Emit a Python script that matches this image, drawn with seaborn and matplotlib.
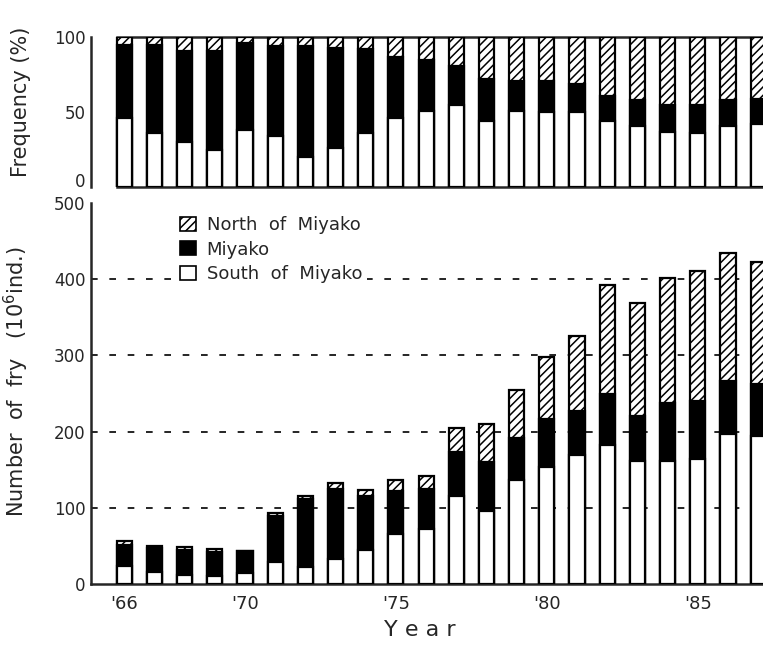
import matplotlib
matplotlib.use("Agg")
import matplotlib.pyplot as plt
from matplotlib.patches import Patch
import seaborn as sns
import pandas as pd
import numpy as np

# ---------------- data ----------------
years = [1966, 1967, 1968, 1969, 1970, 1971, 1972, 1973, 1974, 1975, 1976,
         1977, 1978, 1979, 1980, 1981, 1982, 1983, 1984, 1985, 1986, 1987]

# Frequency (%)
freq_south = [46, 36, 30, 25, 38, 34, 20, 26, 36, 46, 51,
              55, 44, 51, 50, 50, 44, 41, 37, 36, 41, 42]
freq_miyako = [49, 59, 61, 66, 58, 60, 74, 67, 56, 41, 34,
               26, 28, 20, 21, 19, 17, 17, 18, 19, 17, 17]
freq_north = [100 - s - m for s, m in zip(freq_south, freq_miyako)]

# Number of fry (10^6 ind.)
fry_south = [24, 16, 12, 10, 14, 29, 22, 33, 45, 65, 72,
             116, 96, 137, 153, 169, 183, 162, 161, 164, 197, 194]
fry_miyako = [27, 31, 32, 32, 29, 60, 89, 92, 71, 57, 53,
              57, 64, 54, 64, 58, 66, 58, 76, 76, 70, 68]
fry_north = [5, 3, 4, 4, 0, 4, 4, 8, 7, 15, 17,
             32, 50, 63, 81, 98, 143, 149, 165, 171, 167, 161]

grid_levels = [100, 200, 300, 400]
xtick_years = [1966, 1970, 1975, 1980, 1985]
xtick_labels = ["'66", "'70", "'75", "'80", "'85"]

labels = ["North  of  Miyako", "Miyako", "South  of  Miyako"]

# ---------------- style ----------------
sns.set_style("white")
plt.rcParams["font.family"] = ["DejaVu Sans"]
plt.rcParams["hatch.color"] = "black"
plt.rcParams["hatch.linewidth"] = 1.1

W = 0.5
XMIN, XMAX = 1964.9, 1987.16

df_f = pd.DataFrame({"year": years,
                     "s": freq_south,
                     "sm": np.add(freq_south, freq_miyako),
                     "tot": np.add(np.add(freq_south, freq_miyako), freq_north)})
df_n = pd.DataFrame({"year": years,
                     "s": fry_south,
                     "sm": np.add(fry_south, fry_miyako),
                     "tot": np.add(np.add(fry_south, fry_miyako), fry_north)})

fig = plt.figure(figsize=(7.63, 6.45), dpi=100)
ax_top = fig.add_axes([91 / 763, 1 - 187 / 645, 672 / 763, 150 / 645])
ax_bot = fig.add_axes([91 / 763, 1 - 584 / 645, 672 / 763, 381 / 645])

bar_kw = dict(edgecolor="black", linewidth=1.6, errorbar=None,
              native_scale=True, width=W, zorder=3)


def stacked(ax, df):
    sns.barplot(data=df, x="year", y="tot", ax=ax, color="white",
                hatch="////", **bar_kw)
    sns.barplot(data=df, x="year", y="sm", ax=ax, color="black", **bar_kw)
    sns.barplot(data=df, x="year", y="s", ax=ax, color="white", **bar_kw)


stacked(ax_top, df_f)
stacked(ax_bot, df_n)

# top panel
ax_top.set_xlim(XMIN, XMAX)
ax_top.set_ylim(0, 100)
ax_top.set_yticks([0, 50, 100])
ax_top.set_xticks([])
ax_top.set_xlabel("")
ax_top.set_ylabel("Frequency (%)", fontsize=15)
ax_top.yaxis.set_label_coords(-0.09, 0.57)
ax_top.spines["right"].set_visible(False)
for s in ["top", "bottom"]:
    ax_top.spines[s].set_bounds(years[0] - W / 2, XMAX)
    ax_top.spines[s].set_linewidth(1.8)
ax_top.spines["left"].set_linewidth(1.8)
ax_top.tick_params(axis="y", direction="in", length=10, width=1.8,
                   labelsize=12, pad=4)
ax_top.get_yticklabels()[0].set_va("baseline")

# bottom panel
ax_bot.hlines(grid_levels, XMIN, XMAX, colors="black", linestyles=(0, (4, 7)),
              linewidth=1.2, zorder=1)
ax_bot.set_xlim(XMIN, XMAX)
ax_bot.set_ylim(0, 500)
ax_bot.set_yticks([0, 100, 200, 300, 400, 500])
ax_bot.set_xticks(xtick_years)
ax_bot.set_xticklabels(xtick_labels, fontsize=13)
ax_bot.tick_params(axis="x", length=0, pad=8)
ax_bot.tick_params(axis="y", direction="in", length=10, width=1.8,
                   labelsize=12, pad=4)
ax_bot.spines["right"].set_visible(False)
ax_bot.spines["top"].set_visible(False)
ax_bot.spines["left"].set_linewidth(1.8)
ax_bot.spines["bottom"].set_linewidth(1.8)
ax_bot.set_ylabel("Number  of  fry   (10$^6$ind.)", fontsize=15)
ax_bot.yaxis.set_label_coords(-0.09, 0.53)
ax_bot.set_xlabel("Y e a r", fontsize=16)
ax_bot.xaxis.set_label_coords(0.49, -0.095)

handles = [Patch(facecolor="white", edgecolor="black", hatch="////", linewidth=1.2),
           Patch(facecolor="black", edgecolor="black", linewidth=1.2),
           Patch(facecolor="white", edgecolor="black", linewidth=1.2)]
leg = ax_bot.legend(handles, labels, loc="upper left",
                    bbox_to_anchor=(0.125, 0.977), frameon=True, fontsize=13,
                    handlelength=0.9, handleheight=0.8, handletextpad=0.6,
                    labelspacing=0.35, borderaxespad=0, borderpad=0.25,
                    fancybox=False, framealpha=1.0)
leg.get_frame().set_facecolor("white")
leg.get_frame().set_edgecolor("none")
leg.set_zorder(5)

fig.savefig("out.png", dpi=100)
